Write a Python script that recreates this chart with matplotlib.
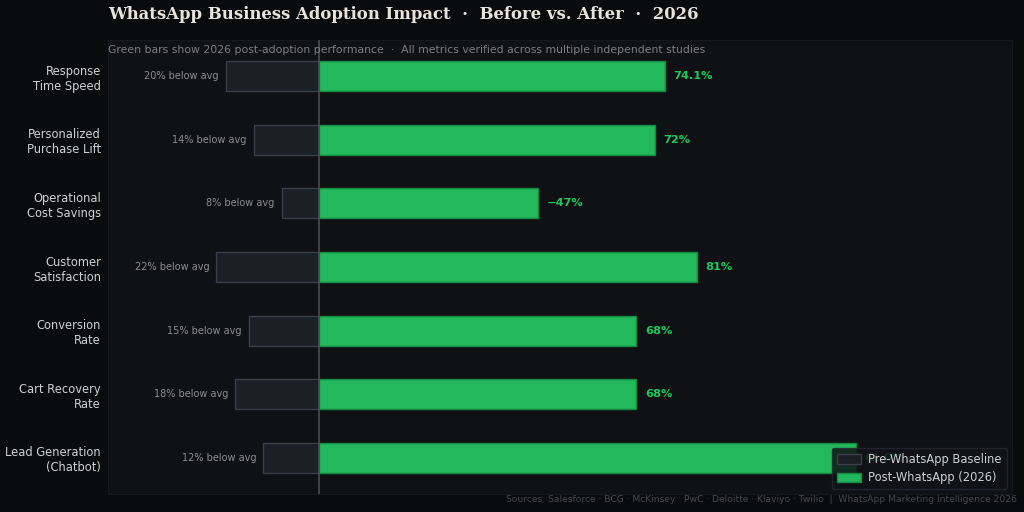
import matplotlib
matplotlib.use("Agg")
import matplotlib.pyplot as plt

categories = ["Response\nTime Speed", "Personalized\nPurchase Lift", "Operational\nCost Savings",
              "Customer\nSatisfaction", "Conversion\nRate", "Cart Recovery\nRate", "Lead Generation\n(Chatbot)"]
baseline = [20, 14, 8, 22, 15, 18, 12]
post = [74.1, 72, 47, 81, 68, 68, 115]
post_labels = ["74.1%", "72%", "\u221247%", "81%", "68%", "68%", "61.0%"]

fig = plt.figure(figsize=(10.24, 5.12), dpi=100, facecolor="#0a0b0d")
ax = fig.add_axes([0.1055, 0.035, 0.8825, 0.887])
ax.set_facecolor("#0f1115")

y = list(range(len(categories)))
ax.barh(y, [-b for b in baseline], height=0.47, color="#1c1f26", edgecolor="#3b3e46",
        linewidth=1, label="Pre-WhatsApp Baseline", zorder=2)
ax.barh(y, post, height=0.47, color="#22b85b", edgecolor="#178a42",
        linewidth=1, label="Post-WhatsApp (2026)", zorder=2)

for yi, b, p, pl in zip(y, baseline, post, post_labels):
    ax.text(-b - 1.5, yi, f"{b}% below avg", ha="right", va="center",
            color="#8a8d93", fontsize=7, zorder=3)
    ax.text(p + 1.8, yi, pl, ha="left", va="center", color="#22c55e",
            fontsize=8.2, fontweight="bold", zorder=3)

ax.axvline(0, color="#4a4d55", linewidth=1.2, zorder=3)
ax.set_xlim(-45.2, 148.4)
ax.set_ylim(6.57, -0.57)
ax.set_yticks(y)
ax.set_yticklabels(categories, color="#d0d0d0", fontsize=8.3)
ax.set_xticks([])
ax.tick_params(axis="y", length=0, pad=5)
for s in ax.spines.values():
    s.set_color("#16181d")
    s.set_linewidth(0.8)

fig.text(0.1055, 0.972, "WhatsApp Business Adoption Impact  \u00b7  Before vs. After  \u00b7  2026",
         fontfamily="DejaVu Serif", fontweight="bold", fontsize=11.9, color="#e8e4dc",
         ha="left", va="center")
ax.text(0.0, 0.988, "Green bars show 2026 post-adoption performance  \u00b7  All metrics verified across multiple independent studies",
        transform=ax.transAxes, ha="left", va="top", fontsize=7.8, color="#7a7d83")
fig.text(0.993, 0.025, "Sources: Salesforce \u00b7 BCG \u00b7 McKinsey \u00b7 PwC \u00b7 Deloitte \u00b7 Klaviyo \u00b7 Twilio  |  WhatsApp Marketing Intelligence 2026",
         ha="right", va="center", fontsize=6.6, color="#45484e")

leg = ax.legend(loc="lower right", fontsize=8.3, facecolor="#111318", edgecolor="#25282e",
                labelcolor="#d0d0d0", framealpha=0.85, borderpad=0.45, handlelength=2.1,
                handleheight=0.9, labelspacing=0.45, handletextpad=0.6, borderaxespad=0.4)
leg.set_zorder(5)

fig.savefig("out.png", dpi=100, facecolor=fig.get_facecolor())
